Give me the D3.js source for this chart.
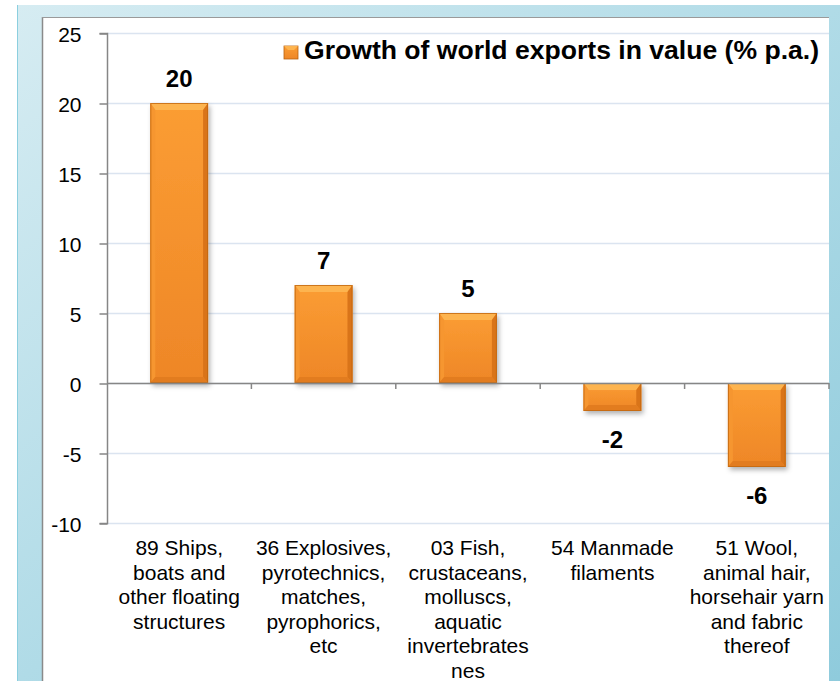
<!DOCTYPE html>
<html><head><meta charset="utf-8">
<script src="https://cdn.jsdelivr.net/npm/d3@7"></script>
<style>body{margin:0;background:#fff}svg{display:block}</style>
</head><body>
<script>
const categories = [
  ["89 Ships,","boats and","other floating","structures"],
  ["36 Explosives,","pyrotechnics,","matches,","pyrophorics,","etc"],
  ["03 Fish,","crustaceans,","molluscs,","aquatic","invertebrates","nes"],
  ["54 Manmade","filaments"],
  ["51 Wool,","animal hair,","horsehair yarn","and fabric","thereof"]
];
const values = [20, 7, 5, -2, -6];
const yTicks = [-10, -5, 0, 5, 10, 15, 20, 25];
const seriesName = "Growth of world exports in value (% p.a.)";

const W = 840, H = 681;
const svg = d3.select("body").append("svg").attr("width", W).attr("height", H);
const defs = svg.append("defs");

const bg = defs.append("linearGradient").attr("id","bgG").attr("x1","0").attr("y1","0").attr("x2","1").attr("y2","1");
bg.append("stop").attr("offset","0").attr("stop-color","#d6ecf2");
bg.append("stop").attr("offset","0.5").attr("stop-color","#b0dbe7");
bg.append("stop").attr("offset","1").attr("stop-color","#8fcbdc");

const barG = defs.append("linearGradient").attr("id","barG").attr("x1","0").attr("y1","0").attr("x2","0").attr("y2","1");
barG.append("stop").attr("offset","0").attr("stop-color","#fb9d33");
barG.append("stop").attr("offset","1").attr("stop-color","#ee8627");

const sh = defs.append("filter").attr("id","sh").attr("x","-20%").attr("y","-20%").attr("width","150%").attr("height","150%");
sh.append("feDropShadow").attr("dx",2).attr("dy",3).attr("stdDeviation",2.5).attr("flood-color","#000").attr("flood-opacity",0.3);

// background panel
svg.append("rect").attr("x",17).attr("y",5).attr("width",W-17).attr("height",H-5).attr("fill","url(#bgG)");
svg.append("line").attr("x1",17.5).attr("x2",17.5).attr("y1",5).attr("y2",H).attr("stroke","#8ccfdf").attr("stroke-width",1);
svg.append("rect").attr("x",43).attr("y",17).attr("width",829-43).attr("height",H-17).attr("fill","#fff");
svg.append("line").attr("x1",42.5).attr("x2",42.5).attr("y1",17).attr("y2",H).attr("stroke","#8a8a8a").attr("stroke-width",1.5);
svg.append("line").attr("x1",42).attr("x2",829).attr("y1",17.5).attr("y2",17.5).attr("stroke","#9a9a9a").attr("stroke-width",1);

const left = 107, right = 829;
const x = d3.scaleBand().domain(d3.range(categories.length)).range([left, right]).paddingInner(0.6).paddingOuter(0.3);
const xb = d3.scaleBand().domain(d3.range(categories.length)).range([left, right]);
const y = d3.scaleLinear().domain([-10, 25]).range([523, 33]);

// gridlines
svg.append("g").selectAll("line").data(yTicks).join("line")
  .attr("x1", left).attr("x2", right)
  .attr("y1", d => Math.round(y(d))+0.5).attr("y2", d => Math.round(y(d))+0.5)
  .attr("stroke", "#dbe4f0").attr("stroke-width", 1.5);

// y axis
const yAxis = d3.axisLeft(y).tickValues(yTicks).tickSize(8).tickPadding(18).tickFormat(d => String(d));
const ya = svg.append("g").attr("transform", `translate(${left+0.5},0.5)`).call(yAxis);
ya.select(".domain").attr("stroke","#868686").attr("stroke-width",1.5).attr("d", `M-8,${y(25)}H0V${y(-10)}H-8`);
ya.selectAll(".tick line").attr("stroke","#868686").attr("stroke-width",1.5);
ya.selectAll(".tick text").attr("font-family","Liberation Sans, Arial, sans-serif").attr("font-size",21).attr("fill","#000").attr("dy","0.36em");

// bars
const gb = svg.append("g");
values.forEach((v, i) => {
  const bx = x(i), bw = x.bandwidth();
  const y0 = y(Math.max(0, v)), y1 = y(Math.min(0, v));
  const bh = y1 - y0;
  const g = gb.append("g");
  g.append("rect").attr("x", bx).attr("y", y0).attr("width", bw).attr("height", bh)
    .attr("fill", "url(#barG)").attr("filter","url(#sh)");
  const t = Math.min(7, bh/2), s = 5, b = Math.min(6, bh/2);
  g.append("polygon").attr("points", [[bx,y0],[bx+bw,y0],[bx+bw-s,y0+t],[bx+s,y0+t]].join(" ")).attr("fill","#fdb44f");
  g.append("polygon").attr("points", [[bx,y0],[bx+s,y0+t],[bx+s,y1-b],[bx,y1]].join(" ")).attr("fill","#f69630");
  g.append("polygon").attr("points", [[bx+bw,y0],[bx+bw-s,y0+t],[bx+bw-s,y1-b],[bx+bw,y1]].join(" ")).attr("fill","#d97419");
  g.append("polygon").attr("points", [[bx,y1],[bx+s,y1-b],[bx+bw-s,y1-b],[bx+bw,y1]].join(" ")).attr("fill","#e27c1f");
  g.append("rect").attr("x", bx+0.5).attr("y", y0+0.5).attr("width", bw-1).attr("height", bh-1)
    .attr("fill","none").attr("stroke","#c0670f").attr("stroke-width",1).attr("stroke-opacity",0.8);
});

// x axis
const xa = svg.append("g");
xa.append("line").attr("x1", left).attr("x2", right).attr("y1", y(0)+0.5).attr("y2", y(0)+0.5).attr("stroke","#868686").attr("stroke-width",1.5);
xa.selectAll("line.t").data(d3.range(1, categories.length+1)).join("line").attr("class","t")
  .attr("x1", d => (d < categories.length ? xb(d) : right) ).attr("x2", d => (d < categories.length ? xb(d) : right))
  .attr("y1", y(0)).attr("y2", y(0)+6).attr("stroke","#868686").attr("stroke-width",1.5);

// data labels
svg.append("g").selectAll("text").data(values).join("text")
  .attr("x", (d,i) => x(i) + x.bandwidth()/2)
  .attr("y", d => d >= 0 ? y(d) - 16 : y(d) + 37)
  .attr("text-anchor","middle").attr("font-family","Liberation Sans, Arial, sans-serif")
  .attr("font-weight","bold").attr("font-size",24).attr("fill","#000")
  .text(d => String(d));

// category labels
const cl = svg.append("g").selectAll("text").data(categories).join("text")
  .attr("text-anchor","middle").attr("font-family","Liberation Sans, Arial, sans-serif")
  .attr("font-size",21).attr("fill","#000");
cl.each(function(lines, i) {
  const cx = xb(i) + xb.bandwidth()/2;
  d3.select(this).selectAll("tspan").data(lines).join("tspan")
    .attr("x", cx).attr("y", (d,j) => 555 + j*24.5).text(d => d);
});

// legend
const lg = svg.append("g");
lg.append("rect").attr("x",284).attr("y",46).attr("width",14).attr("height",13).attr("fill","url(#barG)").attr("stroke","#b8620f").attr("stroke-width",0.8);
lg.append("polygon").attr("points","284,46 298,46 294,50 288,50").attr("fill","#fdb44f");
lg.append("text").attr("x",304).attr("y",59).attr("font-family","Liberation Sans, Arial, sans-serif")
  .attr("font-weight","bold").attr("font-size",25).attr("fill","#000")
  .attr("textLength",515).attr("lengthAdjust","spacingAndGlyphs").text(seriesName);
</script>
</body></html>
